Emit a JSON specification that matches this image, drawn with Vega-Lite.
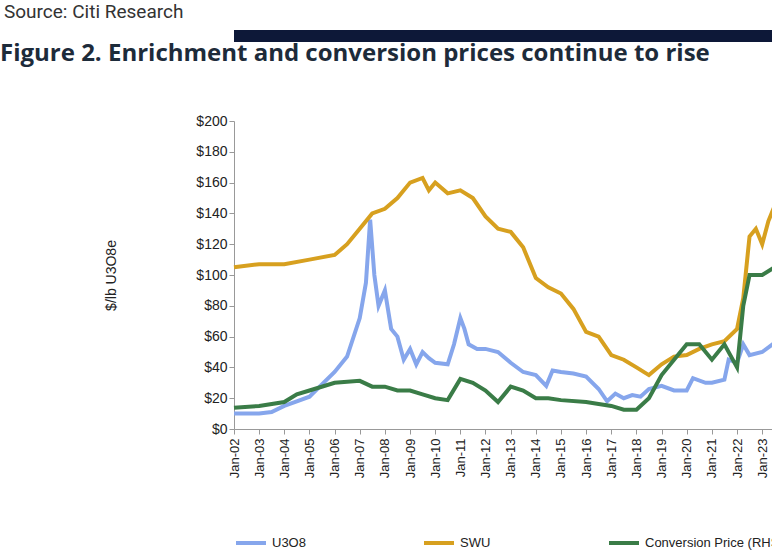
{
  "$schema": "https://vega.github.io/schema/vega-lite/v6.json",
  "background": "white",
  "padding": {"left": 0, "right": 0, "top": 3, "bottom": 5},
  "title": {"text": "Source: Citi Research", "anchor": "start", "frame": "bounds", "fontSize": 19, "fontWeight": "normal", "font": "Roboto", "color": "#333", "offset": 8, "dx": 4},
  "config": {"view": {"stroke": null}, "font": "Liberation Sans", "concat": {"spacing": 0}},
  "vconcat": [
    {
      "width": 660, "height": 12,
      "data": {"values": [{"k": "a"}]},
      "mark": {"type": "rect", "color": "#0d1838"},
      "encoding": {"y": {"field": "k", "type": "nominal", "title": null, "axis": {"labels": false, "ticks": false, "domain": false, "minExtent": 112, "maxExtent": 112}}}
    },
    {
      "width": 568, "height": 308,
      "title": {"text": "Figure 2. Enrichment and conversion prices continue to rise", "anchor": "start", "fontSize": 24, "font": "Open Sans", "fontWeight": "bold", "color": "#1d2b3a", "dx": -104, "offset": 48},
      "data": {"values": [
        {"d":"2002-01-01","s":"U3O8","v":10},{"d":"2003-01-01","s":"U3O8","v":10},{"d":"2003-07-01","s":"U3O8","v":11},{"d":"2004-01-01","s":"U3O8","v":15},{"d":"2004-07-01","s":"U3O8","v":18},{"d":"2005-01-01","s":"U3O8","v":21},{"d":"2005-07-01","s":"U3O8","v":29},{"d":"2006-01-01","s":"U3O8","v":37},{"d":"2006-07-01","s":"U3O8","v":47},{"d":"2007-01-01","s":"U3O8","v":72},{"d":"2007-04-01","s":"U3O8","v":95},{"d":"2007-06-01","s":"U3O8","v":136},{"d":"2007-08-01","s":"U3O8","v":100},{"d":"2007-10-01","s":"U3O8","v":80},{"d":"2008-01-01","s":"U3O8","v":90},{"d":"2008-04-01","s":"U3O8","v":65},{"d":"2008-07-01","s":"U3O8","v":60},{"d":"2008-10-01","s":"U3O8","v":45},{"d":"2009-01-01","s":"U3O8","v":52},{"d":"2009-04-01","s":"U3O8","v":42},{"d":"2009-07-01","s":"U3O8","v":50},{"d":"2009-10-01","s":"U3O8","v":46},{"d":"2010-01-01","s":"U3O8","v":43},{"d":"2010-07-01","s":"U3O8","v":42},{"d":"2010-10-01","s":"U3O8","v":55},{"d":"2011-01-01","s":"U3O8","v":72},{"d":"2011-03-01","s":"U3O8","v":65},{"d":"2011-05-01","s":"U3O8","v":55},{"d":"2011-09-01","s":"U3O8","v":52},{"d":"2012-01-01","s":"U3O8","v":52},{"d":"2012-07-01","s":"U3O8","v":50},{"d":"2013-01-01","s":"U3O8","v":43},{"d":"2013-07-01","s":"U3O8","v":37},{"d":"2014-01-01","s":"U3O8","v":35},{"d":"2014-06-01","s":"U3O8","v":28},{"d":"2014-09-01","s":"U3O8","v":38},{"d":"2015-01-01","s":"U3O8","v":37},{"d":"2015-07-01","s":"U3O8","v":36},{"d":"2016-01-01","s":"U3O8","v":34},{"d":"2016-07-01","s":"U3O8","v":26},{"d":"2016-11-01","s":"U3O8","v":18},{"d":"2017-03-01","s":"U3O8","v":23},{"d":"2017-07-01","s":"U3O8","v":20},{"d":"2017-11-01","s":"U3O8","v":22},{"d":"2018-03-01","s":"U3O8","v":21},{"d":"2018-07-01","s":"U3O8","v":26},{"d":"2019-01-01","s":"U3O8","v":28},{"d":"2019-07-01","s":"U3O8","v":25},{"d":"2020-01-01","s":"U3O8","v":25},{"d":"2020-04-01","s":"U3O8","v":33},{"d":"2020-10-01","s":"U3O8","v":30},{"d":"2021-01-01","s":"U3O8","v":30},{"d":"2021-07-01","s":"U3O8","v":32},{"d":"2021-09-01","s":"U3O8","v":45},{"d":"2022-01-01","s":"U3O8","v":43},{"d":"2022-04-01","s":"U3O8","v":55},{"d":"2022-07-01","s":"U3O8","v":48},{"d":"2023-01-01","s":"U3O8","v":50},{"d":"2023-07-01","s":"U3O8","v":56},{"d":"2023-10-01","s":"U3O8","v":70},{"d":"2024-01-01","s":"U3O8","v":100},{"d":"2024-03-01","s":"U3O8","v":90},{"d":"2024-06-01","s":"U3O8","v":85},
        {"d":"2002-01-01","s":"SWU","v":105},{"d":"2003-01-01","s":"SWU","v":107},{"d":"2004-01-01","s":"SWU","v":107},{"d":"2005-01-01","s":"SWU","v":110},{"d":"2006-01-01","s":"SWU","v":113},{"d":"2006-07-01","s":"SWU","v":120},{"d":"2007-01-01","s":"SWU","v":130},{"d":"2007-07-01","s":"SWU","v":140},{"d":"2008-01-01","s":"SWU","v":143},{"d":"2008-07-01","s":"SWU","v":150},{"d":"2009-01-01","s":"SWU","v":160},{"d":"2009-07-01","s":"SWU","v":163},{"d":"2009-10-01","s":"SWU","v":155},{"d":"2010-01-01","s":"SWU","v":160},{"d":"2010-07-01","s":"SWU","v":153},{"d":"2011-01-01","s":"SWU","v":155},{"d":"2011-07-01","s":"SWU","v":150},{"d":"2012-01-01","s":"SWU","v":138},{"d":"2012-07-01","s":"SWU","v":130},{"d":"2013-01-01","s":"SWU","v":128},{"d":"2013-07-01","s":"SWU","v":118},{"d":"2014-01-01","s":"SWU","v":98},{"d":"2014-07-01","s":"SWU","v":92},{"d":"2015-01-01","s":"SWU","v":88},{"d":"2015-07-01","s":"SWU","v":78},{"d":"2016-01-01","s":"SWU","v":63},{"d":"2016-07-01","s":"SWU","v":60},{"d":"2017-01-01","s":"SWU","v":48},{"d":"2017-07-01","s":"SWU","v":45},{"d":"2018-01-01","s":"SWU","v":40},{"d":"2018-07-01","s":"SWU","v":35},{"d":"2019-01-01","s":"SWU","v":42},{"d":"2019-07-01","s":"SWU","v":47},{"d":"2020-01-01","s":"SWU","v":48},{"d":"2020-07-01","s":"SWU","v":52},{"d":"2021-01-01","s":"SWU","v":55},{"d":"2021-07-01","s":"SWU","v":57},{"d":"2022-01-01","s":"SWU","v":65},{"d":"2022-04-01","s":"SWU","v":85},{"d":"2022-07-01","s":"SWU","v":125},{"d":"2022-10-01","s":"SWU","v":130},{"d":"2023-01-01","s":"SWU","v":120},{"d":"2023-04-01","s":"SWU","v":135},{"d":"2023-07-01","s":"SWU","v":145},{"d":"2024-01-01","s":"SWU","v":165},{"d":"2024-04-01","s":"SWU","v":175},{"d":"2024-07-01","s":"SWU","v":173},
        {"d":"2002-01-01","s":"Conversion Price (RHS)","v":5.5},{"d":"2003-01-01","s":"Conversion Price (RHS)","v":6},{"d":"2004-01-01","s":"Conversion Price (RHS)","v":7},{"d":"2004-07-01","s":"Conversion Price (RHS)","v":9},{"d":"2005-01-01","s":"Conversion Price (RHS)","v":10},{"d":"2006-01-01","s":"Conversion Price (RHS)","v":12},{"d":"2007-01-01","s":"Conversion Price (RHS)","v":12.5},{"d":"2007-07-01","s":"Conversion Price (RHS)","v":11},{"d":"2008-01-01","s":"Conversion Price (RHS)","v":11},{"d":"2008-07-01","s":"Conversion Price (RHS)","v":10},{"d":"2009-01-01","s":"Conversion Price (RHS)","v":10},{"d":"2009-07-01","s":"Conversion Price (RHS)","v":9},{"d":"2010-01-01","s":"Conversion Price (RHS)","v":8},{"d":"2010-07-01","s":"Conversion Price (RHS)","v":7.5},{"d":"2011-01-01","s":"Conversion Price (RHS)","v":13},{"d":"2011-07-01","s":"Conversion Price (RHS)","v":12},{"d":"2012-01-01","s":"Conversion Price (RHS)","v":10},{"d":"2012-07-01","s":"Conversion Price (RHS)","v":7},{"d":"2013-01-01","s":"Conversion Price (RHS)","v":11},{"d":"2013-07-01","s":"Conversion Price (RHS)","v":10},{"d":"2014-01-01","s":"Conversion Price (RHS)","v":8},{"d":"2014-07-01","s":"Conversion Price (RHS)","v":8},{"d":"2015-01-01","s":"Conversion Price (RHS)","v":7.5},{"d":"2016-01-01","s":"Conversion Price (RHS)","v":7},{"d":"2016-07-01","s":"Conversion Price (RHS)","v":6.5},{"d":"2017-01-01","s":"Conversion Price (RHS)","v":6},{"d":"2017-07-01","s":"Conversion Price (RHS)","v":5},{"d":"2018-01-01","s":"Conversion Price (RHS)","v":5},{"d":"2018-07-01","s":"Conversion Price (RHS)","v":8},{"d":"2019-01-01","s":"Conversion Price (RHS)","v":14},{"d":"2019-07-01","s":"Conversion Price (RHS)","v":18},{"d":"2020-01-01","s":"Conversion Price (RHS)","v":22},{"d":"2020-07-01","s":"Conversion Price (RHS)","v":22},{"d":"2021-01-01","s":"Conversion Price (RHS)","v":18},{"d":"2021-07-01","s":"Conversion Price (RHS)","v":22},{"d":"2021-10-01","s":"Conversion Price (RHS)","v":19},{"d":"2022-01-01","s":"Conversion Price (RHS)","v":16},{"d":"2022-04-01","s":"Conversion Price (RHS)","v":32},{"d":"2022-07-01","s":"Conversion Price (RHS)","v":40},{"d":"2023-01-01","s":"Conversion Price (RHS)","v":40},{"d":"2023-07-01","s":"Conversion Price (RHS)","v":42},{"d":"2023-10-01","s":"Conversion Price (RHS)","v":55},{"d":"2024-01-01","s":"Conversion Price (RHS)","v":58},{"d":"2024-04-01","s":"Conversion Price (RHS)","v":60},{"d":"2024-06-01","s":"Conversion Price (RHS)","v":68}
      ]},
      "encoding": {
        "x": {"field": "d", "type": "temporal", "title": null,
          "scale": {"domain": ["2002-01-01", "2024-08-01"]},
          "axis": {"format": "%b-%y", "tickCount": {"interval": "year", "step": 1}, "labelAngle": -90, "labelFontSize": 13, "labelColor": "#222", "domainColor": "#999", "tickColor": "#999", "grid": false, "labelPadding": 4}},
        "color": {"field": "s", "type": "nominal", "title": null,
          "scale": {"domain": ["U3O8", "SWU", "Conversion Price (RHS)"], "range": ["#86a6ec", "#d7a01f", "#3a7c47"]},
          "legend": {"orient": "bottom", "direction": "horizontal", "symbolType": "stroke", "symbolStrokeWidth": 4, "symbolSize": 900, "labelFontSize": 13, "labelColor": "#222", "columnPadding": 110, "offset": 48}}
      },
      "layer": [
        {
          "transform": [{"filter": "datum.s != 'Conversion Price (RHS)'"}],
          "mark": {"type": "line", "strokeWidth": 4},
          "encoding": {"y": {"field": "v", "type": "quantitative", "title": "$/lb U3O8e",
            "scale": {"domain": [0, 200]},
            "axis": {"values": [0,20,40,60,80,100,120,140,160,180,200], "format": "$,.0f", "minExtent": 112, "labelFontSize": 14, "titleFontSize": 14, "titleFontWeight": "normal", "labelColor": "#222", "titleColor": "#222", "grid": false, "domainColor": "#999", "tickColor": "#999"}}}
        },
        {
          "transform": [{"filter": "datum.s == 'Conversion Price (RHS)'"}],
          "mark": {"type": "line", "strokeWidth": 4},
          "encoding": {"y": {"field": "v", "type": "quantitative", "title": "$/lb U3O8e",
            "scale": {"domain": [0, 80]},
            "axis": {"orient": "right", "values": [0,10,20,30,40,50,60,70,80], "format": "$,.0f", "labelFontSize": 14, "titleFontSize": 14, "titleFontWeight": "normal", "labelColor": "#222", "titleColor": "#222", "grid": false, "domainColor": "#999", "tickColor": "#999"}}}
        }
      ],
      "resolve": {"scale": {"y": "independent"}}
    }
  ]
}
